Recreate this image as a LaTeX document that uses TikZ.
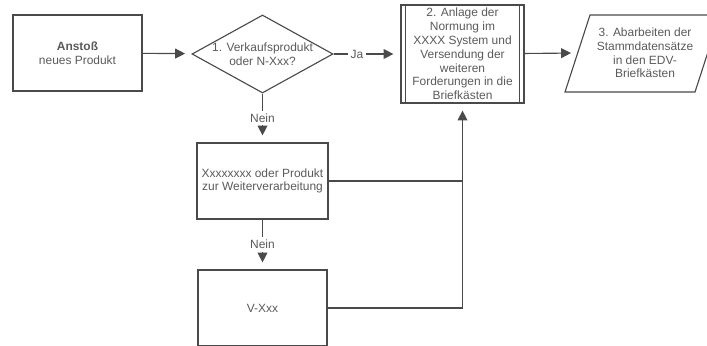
\documentclass[tikz,border=0pt]{standalone}
\usepackage{fontspec}
\setmainfont{Liberation Sans}
\usetikzlibrary{arrows.meta,shapes.geometric,calc}
\definecolor{ink}{HTML}{4A4A4A}
\definecolor{txt}{HTML}{5A5A5A}

\begin{document}
\begin{tikzpicture}[x=0.025cm, y=-0.025cm, >={Triangle[length=7pt,width=7pt]},
  every node/.style={font=\fontsize{8.5}{9.8}\selectfont, text=txt, align=center},
  line/.style={draw=ink, line width=0.8pt},
  box/.style={line, minimum width=3.225cm, minimum height=1.9cm},
  decision/.style={line, diamond, inner sep=0pt, aspect=1.8,
    minimum width=3.525cm, minimum height=1.95cm},
  process/.style={line, inner sep=1pt, minimum width=3.075cm, minimum height=2.45cm},
  flow/.style={->, line, shorten >=5pt},
  tag/.style={fill=white, inner sep=2pt}]
  \useasboundingbox (0,0) rectangle (707,345);
  \clip (0,0) rectangle (707,345);

  \node[box] (start) at (77.5,53) {\textbf{Anstoß}\\neues Produkt};
  \node[decision] (q1) at (262.5,54) {};
  \node at (q1) {1. Verkaufsprodukt\\oder N-Xxx?};
  \node[process] (norm) at (462.5,54) {2. Anlage der\\Normung im\\XXXX System und\\Versendung der\\weiteren\\Forderungen in die\\Briefkästen};
  \draw[line] ($(norm.north west)+(5,0)$) -- ($(norm.south west)+(5,0)$);
  \draw[line] ($(norm.north east)+(-5,0)$) -- ($(norm.south east)+(-5,0)$);
  % parallelogram, cut at the right edge
  \draw[line] (565,92) -- (590,15) -- (720,15) -- (695,92) -- cycle;
  \node (edv) at (645,53) {3. Abarbeiten der\\Stammdatensätze\\in den EDV-\\Briefkästen};
  \coordinate (edvin) at (578,53);
  \node[box] (xw) at (262.5,181) {Xxxxxxxx oder Produkt\\zur Weiterverarbeitung};
  \node[box] (vx) at (262.5,308) {V-Xxx};

  \draw[flow] (start) -- (q1);
  \draw[flow] (q1) -- node[tag, pos=0.35] {Ja} (norm);
  \draw[flow] (norm) -- (edvin);
  \draw[flow] (q1) -- node[tag] {Nein} (xw);
  \draw[flow] (xw) -- node[tag] {Nein} (vx);
  \draw[line] (xw.east) -- (xw.east -| norm.south);
  \draw[flow] (vx.east) -| (norm.south);
\end{tikzpicture}
\end{document}
